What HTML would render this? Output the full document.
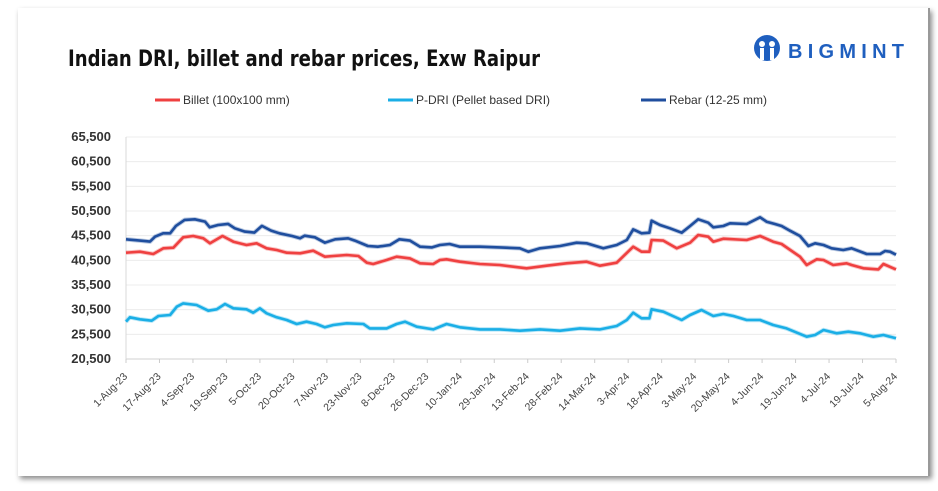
<!DOCTYPE html>
<html><head><meta charset="utf-8"><style>
html,body{margin:0;padding:0;background:#fff;width:938px;height:491px;overflow:hidden}
#card{position:absolute;left:18px;top:8px;width:910px;height:468px;background:#fff;box-shadow:2px 3px 5px rgba(0,0,0,0.45);border-right:2px solid #999}
svg{position:absolute;left:0;top:0}
text{font-family:"Liberation Sans",sans-serif}
</style></head><body>
<div id="card"></div>
<svg id="chart" width="938" height="491">
<text x="68" y="66" font-size="22" fill="#111" textLength="472" lengthAdjust="spacingAndGlyphs" style="font-family:'DejaVu Sans','Liberation Sans',sans-serif;font-weight:600">Indian DRI, billet and rebar prices, Exw Raipur</text>
<g>
<circle cx="767" cy="48" r="13" fill="#1f5fbf"/>
<circle cx="762" cy="44" r="3" fill="#fff"/><circle cx="772" cy="44" r="3" fill="#fff"/>
<rect x="760" y="48" width="4" height="12" fill="#fff"/><rect x="770" y="48" width="4" height="12" fill="#fff"/>
<text x="788" y="58" font-size="20" font-weight="bold" fill="#1f5fbf" textLength="116" lengthAdjust="spacing">BIGMINT</text>
</g>
<g id="legend"></g>
<g id="grid"></g><g id="axes"></g><g id="series"></g>
</svg>
<script>
const xLabels=["1-Aug-23","17-Aug-23","4-Sep-23","19-Sep-23","5-Oct-23","20-Oct-23","7-Nov-23","23-Nov-23","8-Dec-23","26-Dec-23","10-Jan-24","29-Jan-24","13-Feb-24","28-Feb-24","14-Mar-24","3-Apr-24","18-Apr-24","3-May-24","20-May-24","4-Jun-24","19-Jun-24","4-Jul-24","19-Jul-24","5-Aug-24"];
const yTicks=[20500,25500,30500,35500,40500,45500,50500,55500,60500,65500];
const rebarIdx=[0,5,8.6,10.4,13.3,15.8,17.9,21,24.7,28.3,30,33,36.6,39,42.6,46,48.7,52,55,59.5,62.4,64,67.7,71.3,75,79.6,82,86.7,90.3,94.6,98,101.8,105.4,109.7,112.5,116,119.7,126.9,134,141.2,144.2,148.4,155.6,161.5,165.1,171.1,175.9,179.5,181.8,184.8,187.6,188.4,191.4,195,199.2,202.2,205.1,208.7,210.5,214.1,216.5,222.5,227.3,229.6,232.6,235,238,241.6,244.6,247,250,252.9,257.1,260.1,265.5,270.3,272.1,273.9,276];
const rebarVal=[44760,44490,44290,45300,45980,45980,47470,48690,48820,48350,47200,47670,47880,47000,46320,46120,47470,46520,45980,45440,44960,45500,45170,44080,44760,44960,44490,43400,43270,43610,44760,44490,43270,43130,43610,43810,43270,43270,43130,42930,42260,42930,43400,44080,43950,42930,43610,44620,46780,45970,46110,48540,47660,46990,46110,47460,48810,48130,47190,47460,48000,47870,49220,48340,47870,47460,46510,45430,43400,43950,43610,42930,42590,42930,41780,41780,42390,42260,41650];
const billetIdx=[0,5,9.8,13.4,17,20.5,24.1,27.7,30.1,34.6,38.5,43.2,46.8,50.4,54,57.6,62.4,67.1,71.3,74.3,79.1,83.3,86.3,88.6,93.4,97,101.8,105.4,110.1,112.5,114.9,119.7,126.9,134,143.6,150.8,157.9,165.1,169.9,175.9,181.8,184.8,187.6,188.4,192.6,197.4,202.2,205.1,208.7,210.5,214.1,222.5,227.3,232,235,241.6,244,247.6,250,253.5,258.3,260.1,264.3,269.7,271.5,276];
const billetVal=[42050,42250,41780,42930,43070,45160,45430,44960,43950,45430,44280,43610,43950,42930,42590,42050,41920,42460,41240,41380,41580,41380,40030,39760,40570,41240,40900,39890,39760,40570,40700,40230,39760,39550,38880,39420,39890,40230,39420,40030,43270,42260,42260,44620,44490,42930,44080,45640,45300,44280,44890,44620,45430,44280,43810,41240,39550,40700,40570,39550,39890,39550,38880,38670,39760,38670];
const driIdx=[0,1.4,5,9.2,11.6,15.8,18.2,20.5,25.3,29.5,32.5,35.5,38.5,43.2,45.6,48,50.4,54,57.6,61.2,64.7,68.3,71.3,74.3,79.1,85.1,87.4,93.4,97,100,104.2,110.1,114.9,119.7,126.9,134,141.2,148.4,155.6,162.7,169.9,175.9,179.5,181.8,184.8,187.6,188.4,192.6,199.2,202.2,206.3,210.5,214.1,217.7,222.5,227.3,232,236.8,244,247,250,254.7,258.9,263.1,267.9,271.5,276];
const driVal=[28070,28950,28540,28270,29210,29420,31110,31780,31450,30300,30570,31650,30770,30570,29890,30770,29760,28950,28400,27590,28070,27590,26920,27390,27730,27590,26710,26710,27590,28070,27050,26510,27590,26920,26510,26510,26240,26510,26240,26710,26510,27190,28400,29890,28740,28740,30570,30090,28400,29420,30430,29210,29620,29210,28400,28400,27390,26710,25020,25360,26380,25700,26040,25700,25020,25360,24690];
const NS="http://www.w3.org/2000/svg";
const X0=126,X1=896,Y0=359,Y1=137,YMIN=20500,YMAX=65500,NCAT=276;
const xs=i=>X0+(i/NCAT)*(X1-X0);
const ys=v=>Y0-(v-YMIN)/(YMAX-YMIN)*(Y0-Y1);
function mk(t,a,p){const e=document.createElementNS(NS,t);for(const k in a)e.setAttribute(k,a[k]);p.appendChild(e);return e;}
const grid=document.getElementById('grid'),axes=document.getElementById('axes'),ser=document.getElementById('series'),leg=document.getElementById('legend');
yTicks.forEach(v=>{
 const l=mk('line',{x1:X0,x2:X1,y1:ys(v),y2:ys(v),stroke:v===YMIN?'#d0d0d0':'#ececec','stroke-width':1},grid);
 
 
 const t=mk('text',{x:111,y:ys(v)+4,'text-anchor':'end','font-size':13,'font-weight':'bold',fill:'#333'},axes);
 t.textContent=v.toLocaleString('en-US');
 
 
});
mk('line',{x1:X0,x2:X0,y1:Y1,y2:Y0,stroke:'#d8d8d8'},axes);
xLabels.forEach((s,i)=>{
 const x=X0+i*(X1-X0)/(xLabels.length-1);
 mk('line',{x1:x,x2:x,y1:Y0,y2:Y0+4,stroke:'#ccc'},axes);
 const t=mk('text',{x:x+2,y:Y0+18,'text-anchor':'end','font-size':10.5,fill:'#444',transform:`rotate(-45 ${x+2} ${Y0+18})`},axes);
 t.textContent=s;
 
 
});
function line(idx,vals,col,name){
 const d=idx.map((i,k)=>(k?'L':'M')+xs(i).toFixed(1)+','+ys(vals[k]).toFixed(1)).join('');
 mk('path',{d,fill:'none',stroke:col,'stroke-width':4.5,'stroke-opacity':0.3,'stroke-linejoin':'round'},ser);
 const p=mk('path',{d,fill:'none',stroke:col,'stroke-width':2.6,'stroke-linejoin':'round'},ser);
 
 
}
line(rebarIdx,rebarVal,'#1f4e9e','rebar-line');
line(billetIdx,billetVal,'#ef4040','billet-line');
line(driIdx,driVal,'#1aaee6','pdri-line');
[["Billet (100x100 mm)",'#ef4040',155],["P-DRI (Pellet based DRI)",'#1aaee6',388],["Rebar (12-25 mm)",'#1f4e9e',641]].forEach(([s,c,x])=>{
 const g=mk('g',{},leg);
 
 
 mk('line',{x1:x,x2:x+25,y1:100,y2:100,stroke:c,'stroke-width':3},g);
 const t=mk('text',{x:x+28,y:104,'font-size':12,fill:'#333'},g);t.textContent=s;
});
</script>
</body></html>
